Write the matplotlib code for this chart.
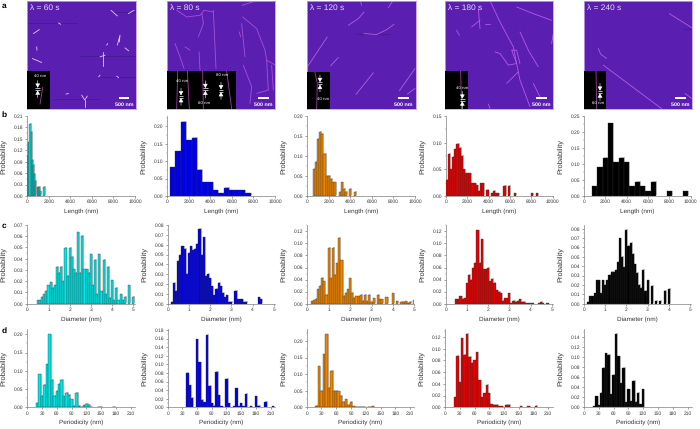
import numpy as np
from matplotlib import pyplot as plt, patches as mpatches, patheffects as pe

plt.rcParams["font.family"] = ["Liberation Sans", "DejaVu Sans"]
plt.rcParams["text.hinting"] = "no_hinting"

W, H = 700, 429

colors_row = ["#00e6e6", "#0000e6", "#f08400", "#e60000", "#000000"]
times = ["λ = 60 s", "λ = 80 s", "λ = 120 s", "λ = 180 s", "λ = 240 s"]

# Length histograms: (first bin centre, bin width, probabilities)
len_60 = [.105, .143, .19, .168, .095, .082, .058, .04, 0, .024, .024, .024, .012, 0, 0, .024]
len_80 = [.083, .129, .213, .16, .168, .076, .04, .04, .016, .008, .024, .016, .016, .016, .008]
len_120 = [.068, .085, .143, .16, .155, .105, .05, .05, .043, .034, .034, 0, .01, .034, .018, .01, 0, .018, 0, .01]
len_180 = [.03, .079, .05, .074, .088, .098, .09, .075, .05, .043, .043, .043, .024, .024, .02, .01, .024, .024,
           0, .012, 0, .005, .01, .005, .005, 0, 0, .019, 0, .019, 0, 0, .005, 0, 0, 0, 0, 0, 0, 0, .005, 0, .005]
len_240 = [.03, .09, .12, .227, .106, .12, .106, .03, .045, .03, .015, .045, 0, 0, .015, 0, 0, .015]
len_start = [50, 500, 600, 100, 1000]
len_width = [100, 500, 200, 200, 500]

# Diameter histograms
dia_60 = [.003, .003, .006, .0085, .0115, .0165, .019, .014, .0165, .033, .0275, .033, .02, .0495, .025, .0495,
          .0415, .0305, .0275, .0635, .0275, .0605, .0305, .0305, .0275, .044, .0165, .039, .0085, .044, .011,
          .039, .0085, .033, .0055, .021, .003, .014, .003, .0085, .003, .006, 0, .0165, 0, .006]
dia_80 = [.002, .0215, .013, .0435, .05, .0585, .056, .0305, .052, .0585, .0545, .056, .061, .076, .05, .0675,
          .0285, .0305, .026, .0175, .0085, .015, .0215, .0175, .011, .0065, .0085, .002, .002, 0, .013,
          .0045, .0045, .0045, .002, .002, 0, 0, 0, 0, 0, .0065, .0045]
dia_120 = [.004, .006, .008, .024, .03, .043, .037, .015, .093, .042, .093, .048, .067, .109, .072, .013, .018,
           .024, .042, .018, .01, .012, .012, .015, .005, .015, .004, .015, .003, .009, 0, .015, .007, .007, 0,
           .011, 0, 0, .017, 0, .004, 0, .003, .003, .004, .001, .003, 0, .006]
dia_180 = [.007, .007, .012, .008, .009, .034, .048, .04, .06, .068, .122, .068, .107, .057, .057, .06, .037, .041,
           .035, .022, .02, .017, .005, .009, .009, .017, .001, .005, .003, .005, .007, .003, .003, .001, .001,
           .001, .001, 0, 0, .001, .003, .001, 0, .001]
dia_240 = [.002, .008, .008, .011, .025, .025, .011, .025, .02, .025, .031, .034, .034, .036, .045, .07, .05, .039,
           .079, .062, .065, .053, .042, .033, .02, .017, .036, .014, .025, 0, .019, 0, .003, 0, .003, 0, .014, 0,
           .016]
dia_start = [.5, .2, .2, .5, .2]
dia_width = 0.1

# Periodicity histograms
per_60 = [.012, .091, .032, .062, .118, .2, .075, .032, .045, .064, .075, .03, .04, .034, .022, .004, .04, .004,
          .002, .006, .009, .007, .002, 0, 0, .001, .001, 0, 0, 0, 0, .001]
per_80 = [.08, .051, .022, 0, .158, .105, .018, .012, .169, .05, .009, .003, .083, .028, .002, 0, .066, .009, 0,
          .002, .044, .002, .009, .002, .032, 0, .002, 0, .026, .004, 0, 0, .013, 0, 0, .002]
per_120 = [.004, .124, .05, .16, .22, .058, .11, .05, .05, .048, .035, .017, .024, .008, .017, .003, .002, .002,
           .002, .001, 0, .002, .002, .003]
per_180 = [.017, .088, .043, .118, .09, .125, .086, .076, .08, .094, .046, .017, .024, .038, .024, .005, .004, .004,
           .002, .002, 0, .004, .004, 0, 0, 0, 0, .002, 0, 0, .002, 0, 0, .003]
per_240 = [.002, .022, .004, .029, .078, .107, .104, .026, .065, .146, .101, .048, .078, .01, .036, .012, .053,
           .011, .029, .006, .036]
per_start = [20, 40, 20, 20, 20]
per_width = 5

len_vals = [len_60, len_80, len_120, len_180, len_240]
dia_vals = [dia_60, dia_80, dia_120, dia_180, dia_240]
per_vals = [per_60, per_80, per_120, per_180, per_240]

len_yticks = [np.arange(0, .22, .03), np.arange(0, .21, .05), np.arange(0, .21, .05), np.arange(0, .16, .05), np.arange(0, .26, .05)]
dia_yticks = [np.arange(0, .07, .01), np.arange(0, .09, .01), np.arange(0, .13, .02), np.arange(0, .13, .02), np.arange(0, .09, .01)]
per_yticks = [np.arange(0, .21, .05), np.arange(0, .19, .02), np.arange(0, .21, .05), np.arange(0, .13, .02), np.arange(0, .15, .02)]

len_ylim = [.21, .23, .20, .15, .25]
dia_ylim = [.068, .08, .1305, .1305, .084]
per_ylim = [.2137, .1815, .235, .133, .155]

len_ticks = [0, 2000, 4000, 6000, 8000, 10000]
dia_ticks = [0, 1, 2, 3, 4, 5]
per_ticks = [0, 30, 60, 90, 120, 150, 180, 210]

# Pixel frames of the plots
len_x = [(27.3, 135), (167.3, 275), (307.3, 415), (445.7, 552.7), (584, 690.7)]
dia_x = [(27.3, 135), (167.7, 275), (307.3, 414.5), (445.7, 552.7), (584, 690.7)]
per_x = [(27.3, 135), (167.7, 275), (306.7, 414.5), (445, 552.7), (584, 692)]

# AFM panels: strands in image coordinates (x, y pairs)
img_x = [(80, 408), (500, 826), (52, 377), (465, 790), (882, 1207)]
img_px = [(26.7, 136), (166.7, 275.3), (307.3, 415.7), (445, 553.3), (584, 692.3)]
strands_60 = [
    [(333, 30), (352, 47)], [(385, 40), (402, 30)], [(175, 68), (182, 72)], [(100, 100), (118, 88)],
    [(352, 135), (360, 105), (358, 125)], [(375, 143), (386, 152)], [(310, 155), (310, 197)], [(300, 170), (315, 165)],
    [(97, 175), (125, 187)], [(245, 285), (254, 300), (262, 288)], [(254, 300), (254, 320)], [(300, 225), (296, 230)],
    [(350, 228), (356, 233)], [(198, 282), (205, 280)], [(320, 135), (323, 130)], [(110, 140), (111, 150)],
]
strands_80 = [
    [(530, 30), (560, 50), (600, 45), (612, 30), (640, 35)], [(606, 40), (610, 70), (595, 110)],
    [(640, 30), (648, 205)], [(726, 15), (760, 4)], [(725, 70), (735, 170)],
    [(728, 50), (770, 85), (795, 150), (800, 180), (826, 195)], [(525, 130), (540, 170), (552, 205)],
    [(597, 155), (600, 210)], [(800, 180), (805, 270)], [(815, 195), (820, 270)],
    [(730, 195), (755, 260), (750, 310)], [(770, 280), (805, 270)], [(555, 140), (570, 150)],
    [(718, 95), (722, 110)],
]
strands_120 = [
    [(52, 200), (112, 110)], [(212, 5), (215, 15)], [(295, 22), (308, 2)], [(175, 75), (205, 55), (222, 35)],
    [(222, 100), (260, 103), (290, 88), (312, 72)], [(122, 197), (145, 172)], [(198, 283), (250, 218)],
    [(328, 272), (375, 205)], [(352, 282), (375, 265)],
]
strands_180 = [
    [(602, 5), (630, 65), (670, 140), (690, 240), (720, 320)], [(565, 25), (570, 85)], [(545, 80), (570, 60)],
    [(585, 70), (600, 70)], [(500, 90), (508, 105)], [(680, 20), (730, 40), (785, 60)],
    [(690, 95), (715, 150), (745, 200)],
    [(615, 155), (630, 160), (655, 195), (680, 190), (665, 150), (680, 150), (690, 190)],
    [(650, 250), (685, 215)], [(730, 250), (750, 290)], [(790, 100), (785, 130)], [(600, 325), (595, 312)],
]
strands_240 = [
    [(1138, 40), (1205, 82)], [(925, 145), (932, 162), (950, 175)], [(940, 195), (1115, 326)], [(1185, 280), (1205, 295)],
]
strands = [strands_60, strands_80, strands_120, strands_180, strands_240]
strand_color = ["#e8c8f0", "#a850d8", "#b060e0", "#b858e8", "#b060e0"]

# Dark scan streaks
streaks = [[(80, 230, 68), (340, 408, 35), (240, 408, 168), (300, 408, 232), (160, 300, 298)], [],
           [(200, 300, 100)], [], [(1180, 1207, 85)]]

# Insets: box (x0, x1, y0), strands, labels (text, x, y), arrows (x, gap y)
inset_box = [(80, 150, 213), (500, 708, 213), (52, 120, 217), (465, 533, 213), (882, 947, 213)]
inset_strands = [
    [[(128, 262), (120, 312)]],
    [[(533, 213), (530, 326)], [(562, 213), (568, 326)], [(608, 213), (610, 326)], [(680, 213), (695, 326)]],
    [[(75, 217), (82, 250), (80, 326)]],
    [[(512, 213), (515, 326)]],
    [[(918, 213), (920, 326)]],
]
inset_text = [
    [("40 nm", 120, 226)],
    [("40 nm", 547, 243), ("60 nm", 611, 310), ("80 nm", 665, 224)],
    [("40 nm", 100, 296)],
    [("40 nm", 515, 262)],
    [("60 nm", 925, 310)],
]
inset_arrows = [[(113, 267)], [(543, 290), (616, 268), (663, 272)], [(90, 250)], [(517, 300)], [(930, 276)]]

fig = plt.figure(figsize=(W / 100, H / 100), dpi=100)


def add_axes(x0, x1, ytop, ybottom):
    return fig.add_axes([x0 / W, 1 - ybottom / H, (x1 - x0) / W, (ybottom - ytop) / H])


def hist_panel(frame, ytop, ybottom, vals, start, width, color, xlim, xticks, yticks, ylim, xlabel, yminor):
    ax = add_axes(frame[0], frame[1], ytop, ybottom)
    vals = np.array(vals)
    centres = start + width * np.arange(len(vals))
    mask = vals > 0
    bars = ax.bar(centres[mask], vals[mask], width=width, color=color, edgecolor="#303030", linewidth=0.25, zorder=3)
    for b in bars:
        b.set_path_effects([pe.SimplePatchShadow(offset=(0.7, 0.4), shadow_rgbFace="#c8c8c8", alpha=1), pe.Normal()])
    ax.set_xlim(*xlim)
    ax.set_ylim(0, ylim)
    ax.set_xticks(xticks)
    ax.set_yticks(yticks)
    ax.set_yticklabels([f"{t:.2f}" for t in yticks])
    ax.set_yticks(yminor, minor=True)
    ax.spines["top"].set_visible(False)
    ax.spines["right"].set_visible(False)
    for s in ["left", "bottom"]:
        ax.spines[s].set_linewidth(0.5)
        ax.spines[s].set_color("#808080")
    ax.tick_params(which="major", length=1.6, width=0.4, labelsize=3.5, pad=1, color="#555555", labelcolor="#333333")
    ax.tick_params(which="minor", length=0.9, width=0.3, color="#777777")
    ax.set_xlabel(xlabel, fontsize=4.6, labelpad=3, color="#333333")
    ax.set_ylabel("Probability", fontsize=5.4, color="#333333")
    ax.yaxis.set_label_coords(-20.5 / (frame[1] - frame[0]), 0.5)
    return ax


# Row a: AFM images
for i in range(5):
    ax = add_axes(img_px[i][0], img_px[i][1], 1, 108.7)
    ax.set_xlim(*img_x[i])
    ax.set_ylim(326, 2)
    ax.set_facecolor("#5a1fb0")
    ax.set_xticks([])
    ax.set_yticks([])
    for s in ax.spines.values():
        s.set_color("#c0a0ec")
        s.set_linewidth(0.6)
    for x0, x1, y in streaks[i]:
        ax.hlines(y, x0, x1, color="#301470", linewidth=0.5, alpha=0.6)
    for pts in strands[i]:
        xs, ys = zip(*pts)
        ax.plot(xs, ys, color=strand_color[i], linewidth=0.6, solid_capstyle="round")

    x0, x1, y0 = inset_box[i]
    ax.add_patch(mpatches.Rectangle((x0, y0), x1 - x0, 326 - y0, facecolor="black", edgecolor="none", zorder=4))
    for pts in inset_strands[i]:
        xs, ys = zip(*pts)
        ax.plot(xs, ys, color="#a040a0", linewidth=0.6, zorder=5)
    for txt, x, y in inset_text[i]:
        ax.text(x, y, txt, color="white", fontsize=3.2, ha="center", va="center", zorder=6)
    for x, y in inset_arrows[i]:
        ax.hlines([y - 3, y + 3], x - 7, x + 7, color="white", linewidth=0.5, zorder=6)
        for y_tip, y_tail in [(y - 4, y - 26), (y + 4, y + 26)]:
            ax.annotate("", xy=(x, y_tip), xytext=(x, y_tail), zorder=6,
                        arrowprops=dict(arrowstyle="-|>,head_width=0.4,head_length=0.7", color="white", lw=0.4,
                                        shrinkA=0, shrinkB=0, mutation_scale=3.5))

    ax.text(img_x[i][0] + 9, 22, times[i], color="#e6daf2", fontsize=6.0, ha="left", va="center", zorder=6)
    # scale bar
    xr = img_x[i][1]
    ax.add_patch(mpatches.Rectangle((xr - 52, 290), 32, 8, facecolor="white", edgecolor="none", zorder=6))
    ax.text(xr - 36, 314, "500 nm", color="white", fontsize=3.9, fontweight="bold", ha="center", va="center", zorder=6)

# Rows b, c, d: histograms
for i in range(5):
    hist_panel(len_x[i], 116, 196, len_vals[i], len_start[i], len_width[i], colors_row[i],
               (0, 10000), len_ticks, len_yticks[i], len_ylim[i], "Length (nm)",
               np.arange(0, len_ylim[i] + 1e-6, (len_yticks[i][1] - len_yticks[i][0]) / 2))
    hist_panel(dia_x[i], 225, 303.7, dia_vals[i], dia_start[i], dia_width, colors_row[i],
               (0, 5 * (dia_x[i][1] - dia_x[i][0]) / (106 if i != 2 else 107)), dia_ticks, dia_yticks[i], dia_ylim[i], "Diameter (nm)",
               np.arange(0, dia_ylim[i] + 1e-6, (dia_yticks[i][1] - dia_yticks[i][0]) / 2))
    hist_panel(per_x[i], 329.3, 407.3, per_vals[i], per_start[i], per_width, colors_row[i],
               (0, 219), per_ticks, per_yticks[i], per_ylim[i], "Periodicity (nm)",
               np.arange(0, per_ylim[i] + 1e-6, (per_yticks[i][1] - per_yticks[i][0]) / 2))

for letter, y in zip("abcd", [6, 114.5, 226, 331]):
    fig.text(1.5 / W, 1 - y / H, letter, fontsize=6, fontweight="bold", ha="left", va="center", color="black")

fig.savefig("out.png", dpi=100)
